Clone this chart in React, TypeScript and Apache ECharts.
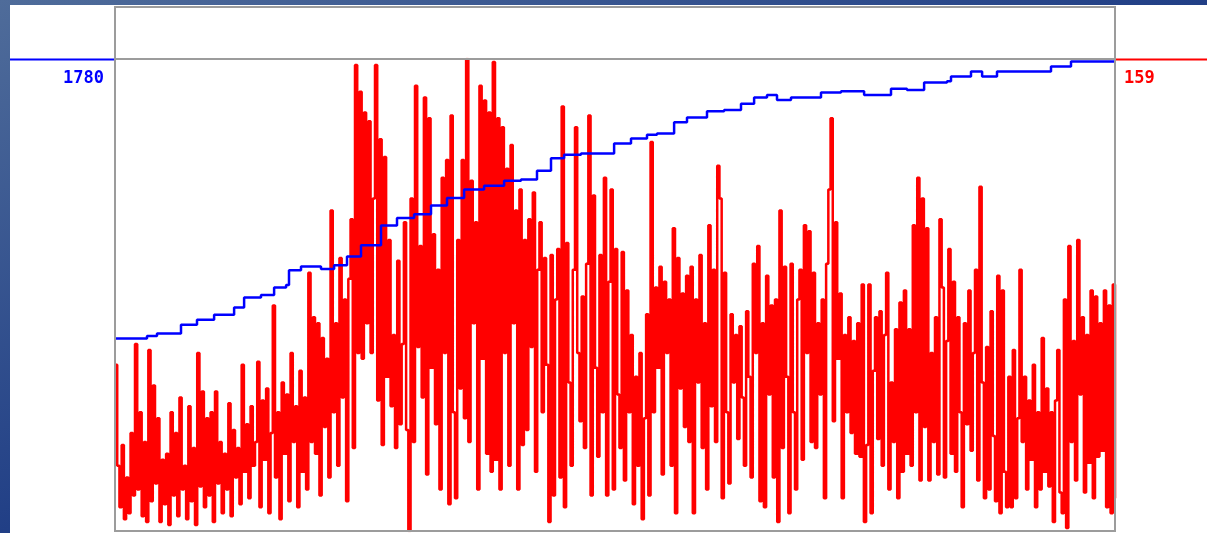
import React, { useEffect, useRef } from "react";
import * as echarts from "echarts";

// Red series (right axis, 0..159), one value per sample
const redValues: number[] = [
  // x 115-240
  56, 22, 8, 29, 4, 18, 6, 33, 12, 63, 14, 40, 5, 30, 3, 61, 10, 49, 16, 38,
  3, 24, 9, 26, 2, 40, 12, 33, 5, 45, 14, 22, 4, 42, 10, 28, 2, 60, 15, 47,
  8, 38, 12, 40, 3, 47, 16, 30, 6, 26, 14, 43, 5, 34, 18, 28, 9,
  // x 240-300
  56, 20, 36, 11, 42, 22, 30, 57, 8, 44, 24, 48, 6, 33, 76, 18, 40, 4, 50, 26,
  46, 10, 60, 30, 42, 8, 54,
  // x 300-360
  20, 45, 14, 87, 30, 72, 26, 70, 12, 65, 35, 58, 18, 108, 40, 70, 22, 92, 45, 78,
  10, 85, 105, 28, 157, 60, 148,
  // x 360-400
  58, 141, 70, 138, 60, 112, 157, 44, 132, 29, 126, 52, 98, 42, 66, 28, 91, 36,
  // x 400-450
  63, 104, 34, 0, 112, 30, 150, 62, 96, 45, 146, 19, 139, 55, 100, 36, 88, 14, 119, 60,
  125, 9, 140,
  // x 450-500
  40, 11, 98, 48, 125, 38, 159, 30, 118, 70, 104, 14, 150, 58, 145, 26, 141, 20, 158, 24,
  139, 14,
  // x 500-560
  136, 60, 122, 22, 130, 70, 108, 14, 115, 29, 98, 34, 105, 62, 114, 20, 88, 104, 40, 92,
  56, 3, 93, 12, 78, 95, 18,
  // x 560-614
  143, 8, 97, 50, 22, 88, 136, 60, 37, 79, 28, 90, 140, 12, 113, 55, 25, 93, 40, 119,
  12, 84, 115, 14,
  // x 614-650
  95, 46, 28, 94, 17, 81, 40, 66, 9, 52, 22, 60, 4, 38, 73, 12,
  // x 650-720
  131, 40, 82, 55, 89, 19, 84, 60, 78, 22, 102, 6, 92, 48, 80, 35, 86, 30, 89, 6,
  78, 50, 93, 28, 70, 14, 103, 42, 88, 30, 123, 112,
  // x 720-800
  11, 87, 40, 16, 73, 50, 66, 31, 69, 45, 22, 74, 52, 18, 90, 60, 96, 10, 70, 8,
  86, 46, 76, 18, 78, 3, 108, 28, 89, 52, 6, 90, 40, 14, 78, 88,
  // x 800-864
  24, 103, 60, 101, 30, 87, 28, 70, 46, 78, 11, 90, 115, 139, 37, 104, 58, 80, 11, 66,
  40, 72, 33, 64, 26, 70, 25, 83, 3,
  // x 864-910
  29, 83, 6, 54, 72, 31, 74, 22, 66, 87, 14, 50, 30, 68, 11, 77, 20, 81, 26, 68,
  // x 910-940
  22, 103, 40, 119, 17, 112, 35, 102, 17, 60, 30, 72, 19, 105,
  // x 940-1000
  82, 18, 64, 95, 26, 84, 20, 72, 40, 8, 70, 36, 81, 27, 60, 88, 17, 116, 50, 11,
  62, 14, 74, 32, 10, 86, 6,
  // x 1000-1060
  81, 20, 8, 52, 8, 61, 11, 38, 88, 30, 52, 14, 44, 24, 56, 8, 40, 14, 65, 20,
  48, 15, 40, 3, 44, 61, 13,
  // x 1060-1115
  6, 78, 1, 96, 30, 64, 17, 98, 46, 72, 13, 66, 23, 81, 11, 79, 25, 70, 27, 81,
  8, 76, 6, 83, 11,
];

// Blue series (left axis): sample positions (in red-sample units) and values
const bluePositions: number[] = [
  0, 14.4, 18.9, 29.7, 36.9, 44.6, 53.6, 58.1, 65.7, 71.6, 77, 78.3, 83.7, 92.7,
  98.6, 104.4, 110.7, 119.7, 126.9, 134.6, 142.2, 149.4, 157.1, 166.1, 175.1, 182.7,
  189.9, 196.2, 202.1, 209.7, 216.9, 224.6, 232.2, 239.4, 243.9, 251.6, 257.4,
  266.4, 274.1, 281.7, 287.6, 293.4, 297.9, 304.2, 311.4, 317.7, 326.7, 332.6,
  337.1, 344.7, 349.2, 356.4, 364.1, 374.4, 376.2, 385.2, 390.2, 396.9, 405.9,
  412.2, 421.2, 430.2, 441.9, 450,
];
const blueValues: number[] = [
  1555, 1557, 1559, 1566, 1570, 1574, 1580, 1588, 1590, 1596, 1598, 1610, 1613, 1611,
  1614, 1621, 1630, 1646, 1652, 1655, 1662, 1668, 1675, 1678, 1682, 1683,
  1690, 1700, 1703, 1704, 1704, 1712, 1716, 1719, 1720, 1729, 1733,
  1738, 1739, 1744, 1749, 1751, 1747, 1749, 1749, 1753, 1754, 1754,
  1751, 1751, 1756, 1755, 1761, 1762, 1766, 1770, 1766, 1770, 1770,
  1770, 1774, 1778, 1778, 1778,
];

const blueAxisMin = 1400;
const blueAxisMax = 1780;
const redAxisMin = 0;
const redAxisMax = 159;

export default function App() {
  const ref = useRef<HTMLDivElement>(null);
  useEffect(() => {
    const chart = echarts.init(ref.current!, null, { renderer: "svg" });
    const N = redValues.length - 1;
    const gl = 115, gt = 59, gw = 1000, gh = 472;
    chart.setOption({
      animation: false,
      grid: { left: gl, top: gt, width: gw, height: gh, show: false },
      xAxis: { type: "value", min: 0, max: N, show: false },
      yAxis: [
        { type: "value", min: blueAxisMin, max: blueAxisMax, show: false },
        { type: "value", min: redAxisMin, max: redAxisMax, show: false },
      ],
      series: [
        {
          type: "line",
          yAxisIndex: 1,
          step: "end",
          symbol: "none",
          data: redValues.map((v, i) => [i, v]),
          lineStyle: { color: "#ff0000", width: 2.5 },
          z: 2,
        },
        {
          type: "line",
          yAxisIndex: 0,
          step: "end",
          symbol: "none",
          data: bluePositions.map((p, i) => [p, blueValues[i]]),
          lineStyle: { color: "#0000ff", width: 2.5 },
          z: 3,
        },
      ],
      graphic: [
        {
          type: "rect",
          z: -100,
          shape: { x: 0, y: 0, width: 1207, height: 533 },
          style: {
            fill: new echarts.graphic.LinearGradient(0, 0, 1, 1, [
              { offset: 0, color: "#4f6c9a" },
              { offset: 0.5, color: "#213f86" },
              { offset: 1, color: "#1a3980" },
            ]),
          },
        },
        {
          type: "rect",
          z: -99,
          shape: { x: 10, y: 5, width: 1197, height: 528 },
          style: { fill: "#ffffff" },
        },
        {
          type: "rect",
          z: 100,
          shape: { x: 115, y: 7, width: gw, height: 52 },
          style: { fill: "none", stroke: "#9c9c9c", lineWidth: 2 },
        },
        {
          type: "rect",
          z: 100,
          shape: { x: gl, y: gt, width: gw, height: gh },
          style: { fill: "none", stroke: "#9c9c9c", lineWidth: 2 },
        },
        {
          type: "line",
          z: 100,
          shape: { x1: 10, y1: 59.5, x2: 114, y2: 59.5 },
          style: { stroke: "#0000ff", lineWidth: 2 },
        },
        {
          type: "line",
          z: 100,
          shape: { x1: 1116, y1: 59.5, x2: 1207, y2: 59.5 },
          style: { stroke: "#ff0000", lineWidth: 2 },
        },
        {
          type: "text",
          z: 100,
          x: 104,
          y: 77,
          style: {
            text: String(blueAxisMax),
            fill: "#0000ff",
            font: "bold 17px 'DejaVu Sans Mono', monospace",
            align: "right",
            verticalAlign: "middle",
          },
        },
        {
          type: "text",
          z: 100,
          x: 1124,
          y: 77,
          style: {
            text: String(redAxisMax),
            fill: "#ff0000",
            font: "bold 17px 'DejaVu Sans Mono', monospace",
            align: "left",
            verticalAlign: "middle",
          },
        },
      ],
    });
    return () => chart.dispose();
  }, []);
  return (
    <div
      ref={ref}
      style={{ position: "fixed", left: 0, top: 0, width: 1207, height: 533 }}
    />
  );
}
